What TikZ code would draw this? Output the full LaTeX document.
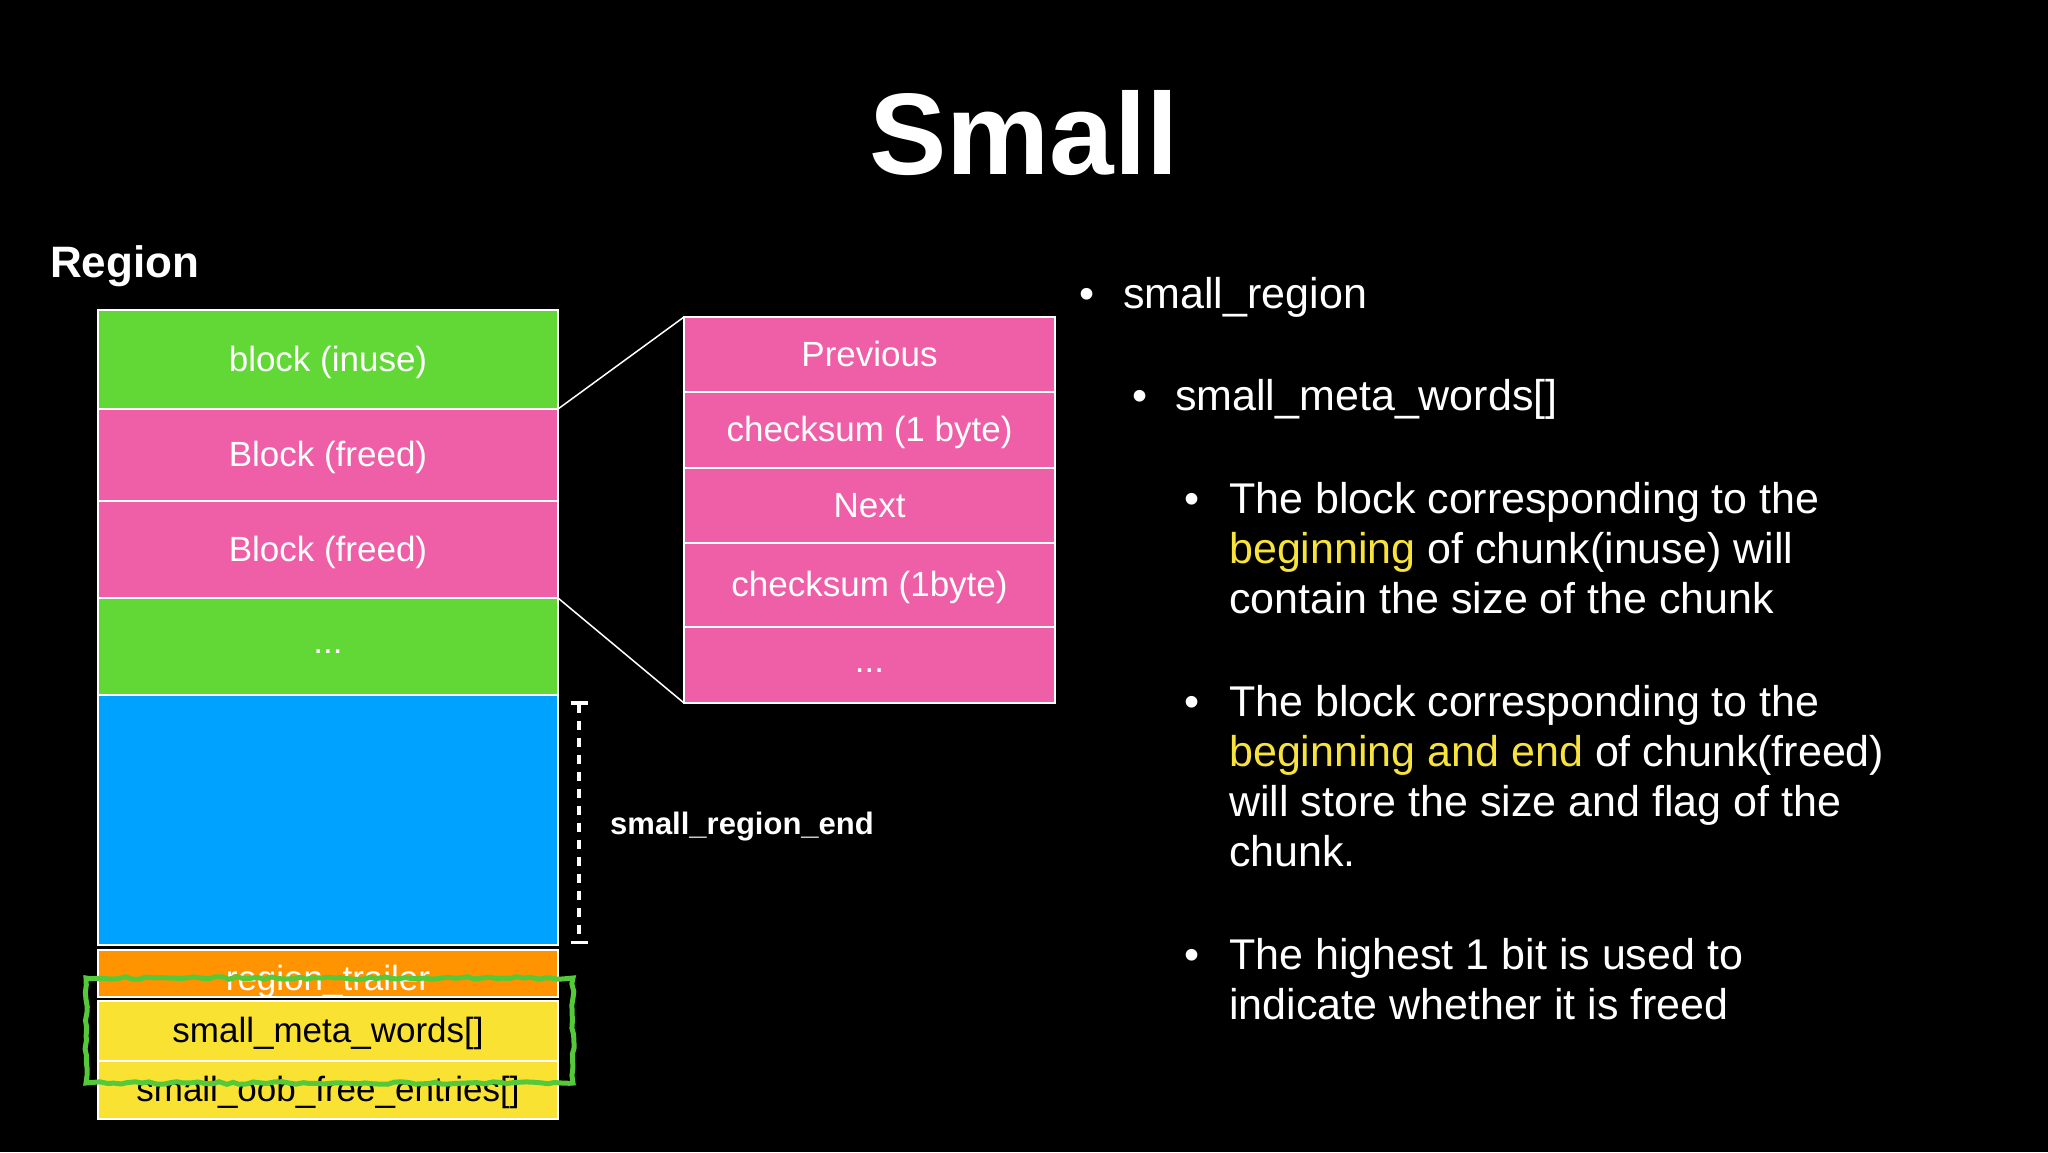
\documentclass[tikz,border=0pt]{standalone}
\usepackage{fontspec}
\setmainfont{Liberation Sans}
\usepackage{xcolor}
\usetikzlibrary{positioning, arrows.meta, calc, decorations.pathmorphing}

\definecolor{kgreen}{HTML}{61D836}
\definecolor{kpink}{HTML}{EF5FA7}
\definecolor{kblue}{HTML}{00A2FF}
\definecolor{korange}{HTML}{FF9300}
\definecolor{kyellow}{HTML}{FAE232}
\definecolor{hlyellow}{HTML}{F7E33C}
\definecolor{penGreen}{HTML}{55C93A}

\newcommand{\cellfont}{\fontsize{35}{40}\selectfont}
\newcommand{\notefont}{\fontsize{43}{50}\selectfont}

\begin{document}
\begin{tikzpicture}[
      x=1pt, y=-1pt,
      node distance=0pt,
      cell/.style={
        draw=white,
        line width=2pt,
        minimum width=460pt,
        inner sep=0pt,
        outer sep=0pt,
        text height=27pt,
        text depth=4pt,
        text=white,
        font=\cellfont
      },
      detail/.style={
        cell,
        fill=kpink,
        minimum width=371pt
      },
      dots/.style={
        text height=18pt,
        text depth=4pt
      },
      link/.style={
        white,
        line width=1.5pt
      },
      note/.style={
        anchor=base west,
        align=left,
        inner sep=0pt,
        text=white,
        font=\notefont
      },
      dot/.style={
        anchor=base,
        inner sep=0pt,
        text=white,
        font=\notefont
      }
    ]

    \fill[black] (0,0) rectangle (2048,1152);

    \node[anchor=base, inner sep=0pt, text=white,
      font=\bfseries\fontsize{116}{130}\selectfont] (title) at (1024,174) {Small};
    \node[anchor=base west, inner sep=0pt, text=white,
      font=\bfseries\fontsize{44}{50}\selectfont] (regionlabel) at (50,277) {Region};

    % region column
    \node[cell, fill=kgreen, minimum height=99pt, anchor=north west] (inuse) at (98,310) {block (inuse)};
    \node[cell, fill=kpink, minimum height=92pt, below=of inuse] (freedA) {Block (freed)};
    \node[cell, fill=kpink, minimum height=97pt, below=of freedA] (freedB) {Block (freed)};
    \node[cell, dots, fill=kgreen, minimum height=97pt, below=of freedB] (rest) {...};
    \node[cell, fill=kblue, minimum height=250pt, below=of rest] (freespace) {};
    \node[cell, fill=korange, minimum height=47pt, below=5pt of freespace] (trailer) {};

    \begin{scope}
      \clip (trailer.north west) rectangle (trailer.south east);
      \node[anchor=base, inner sep=0pt, text=white, font=\cellfont] (trailerlabel)
        at ([yshift=-17pt]trailer.center) {region\_trailer};
    \end{scope}

    \node[cell, fill=kyellow, text=black, minimum height=60pt, below=4pt of trailer] (metawords) {small\_meta\_words[]};
    \node[cell, fill=kyellow, text=black, minimum height=58pt, below=of metawords] (oobfree) {small\_oob\_free\_entries[]};

    % freed block, zoomed
    \node[detail, minimum height=75pt, anchor=north west] (prev) at (684,317) {Previous};
    \node[detail, minimum height=76pt, below=of prev] (sumA) {checksum (1 byte)};
    \node[detail, minimum height=75pt, below=of sumA] (next) {Next};
    \node[detail, minimum height=84pt, below=of next] (sumB) {checksum (1byte)};
    \node[detail, dots, minimum height=76pt, below=of sumB] (more) {...};

    \draw[link] (freedA.north east) -- (prev.north west);
    \draw[link] (freedB.south east) -- (more.south west);

    \coordinate (endtop) at (579,701);
    \coordinate (endbot) at (579,944);
    \draw[white, line width=3.5pt, dash pattern=on 9pt off 8pt,
      {Bar[width=17pt]}-{Bar[width=17pt]}] (endtop) -- (endbot);
    \node[anchor=base west, inner sep=0pt, text=white,
      font=\bfseries\fontsize{31}{36}\selectfont] (endlabel) at (610,834) {small\_region\_end};

    % hand drawn mark
    \pgfmathsetseed{7}
    \draw[penGreen, line width=5pt, decorate,
      decoration={random steps, segment length=7pt, amplitude=1.3pt}]
      (86,978) rectangle (573,1083);

    % notes (base = last line)
    \node[dot] (dotA) at (1087,308) {\textbullet};
    \node[note] (region) at (1123,308) {small\_region};

    \node[dot] (dotB) at (1140,410) {\textbullet};
    \node[note] (words) at (1175,410) {small\_meta\_words[]};

    \node[dot] (dotC) at (1192,513) {\textbullet};
    \node[note] (inusenote) at (1229,613) {The block corresponding to the\\
      \textcolor{hlyellow}{beginning} of chunk(inuse) will\\
      contain the size of the chunk};

    \node[dot] (dotD) at (1192,716) {\textbullet};
    \node[note] (freednote) at (1229,866) {The block corresponding to the\\
      \textcolor{hlyellow}{beginning and end} of chunk(freed)\\
      will store the size and flag of the\\
      chunk.};

    \node[dot] (dotE) at (1192,969) {\textbullet};
    \node[note] (bitnote) at (1229,1019) {The highest 1 bit is used to\\
      indicate whether it is freed};

\end{tikzpicture}
\end{document}
